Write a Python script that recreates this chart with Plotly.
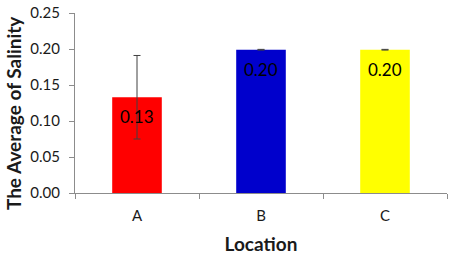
import plotly.graph_objects as go

locations = ["A", "B", "C"]
avg_salinity = [0.133, 0.199, 0.199]
err = [0.058, 0.0005, 0.0005]
bar_colors = ["#FF0000", "#0000CC", "#FFFF00"]
y_ticks = [0.00, 0.05, 0.10, 0.15, 0.20, 0.25]

FONT = "Lato, 'Open Sans', sans-serif"

fig = go.Figure()
fig.add_trace(go.Bar(
    x=locations, y=avg_salinity,
    marker=dict(color=bar_colors, line=dict(width=0)),
    width=0.4,
    error_y=dict(type="data", array=err, visible=True, color="#404040", thickness=1, width=3.5),
    hoverinfo="skip",
))
for loc, v in zip(locations, avg_salinity):
    fig.add_annotation(x=loc, y=v, text=f"{v:.2f}", showarrow=False,
                       yanchor="top", yshift=-7,
                       font=dict(family=FONT, size=17, color="#000000"))

# y-axis title placed like the reference (slightly below the plot centre)
fig.add_annotation(xref="paper", yref="paper", x=0, y=0.444, xshift=-62,
                   text="<b>The Average of Salinity</b>", textangle=-90,
                   showarrow=False, xanchor="center", yanchor="middle",
                   font=dict(family=FONT, size=19, color="#1a1a1a"))

fig.update_layout(
    width=452, height=259,
    margin=dict(l=75, r=5, t=13, b=66),
    paper_bgcolor="white", plot_bgcolor="white",
    showlegend=False,
    font=dict(family=FONT, size=15, color="#1a1a1a"),
    bargap=0.6,
)
fig.update_xaxes(
    automargin=False,
    showline=True, linecolor="#8c8c8c", linewidth=1,
    ticks="outside", tickson="boundaries", ticklen=5, tickcolor="#8c8c8c",
    ticklabelstandoff=9,
    showgrid=False, tickfont=dict(size=15),
    title=dict(text="<b>Location</b>", font=dict(size=19), standoff=14),
)
fig.update_yaxes(
    automargin=False,
    range=[0, 0.25], tickvals=y_ticks, tickformat=".2f",
    showline=True, linecolor="#8c8c8c", linewidth=1,
    ticks="outside", ticklen=5, tickcolor="#8c8c8c",
    ticklabelstandoff=6,
    showgrid=False, zeroline=False, tickfont=dict(size=15),
)
fig.write_html("out.html", config={"displayModeBar": False},
               post_script="document.body.style.margin='0';")
